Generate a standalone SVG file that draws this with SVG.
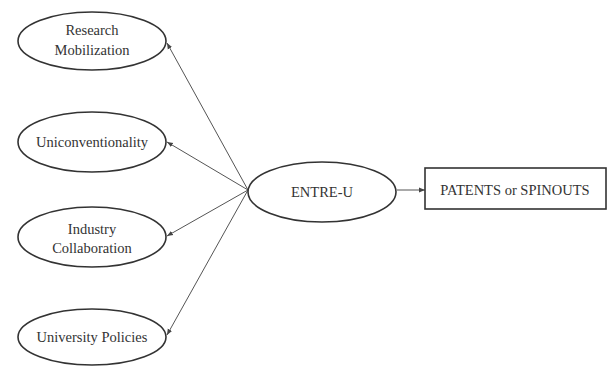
<svg xmlns="http://www.w3.org/2000/svg" width="608" height="367" viewBox="0 0 608 367">
<defs>
<marker id="arr" viewBox="0 0 10 10" refX="10" refY="5" markerWidth="6" markerHeight="6" markerUnits="userSpaceOnUse" orient="auto">
<path d="M0,1 L10,5 L0,9 z" fill="#444"/>
</marker>
<style>
.n{fill:#fff;stroke:#333;stroke-width:1.6}
.t{font-family:'Liberation Serif','DejaVu Serif',serif;font-size:14.5px;fill:#333;text-anchor:middle}
.c{stroke:#555;stroke-width:1;fill:none;marker-end:url(#arr)}
</style>
</defs>
<rect width="608" height="367" fill="#fff"/>
<g id="connectors">
<line class="c" x1="248" y1="190" x2="167" y2="43"/>
<line class="c" x1="248" y1="190" x2="167" y2="142"/>
<line class="c" x1="248" y1="190" x2="167" y2="236"/>
<line class="c" x1="248" y1="190" x2="167" y2="335"/>
<line class="c" x1="397" y1="190" x2="425" y2="190"/>
</g>
<g id="research">
<ellipse class="n" cx="92" cy="41" rx="74" ry="29"/>
<text class="t" x="92" y="35">Research</text>
<text class="t" x="92" y="55">Mobilization</text>
</g>
<g id="unconv">
<ellipse class="n" cx="92" cy="142" rx="74" ry="30"/>
<text class="t" x="92" y="147">Uniconventionality</text>
</g>
<g id="industry">
<ellipse class="n" cx="92" cy="237" rx="74" ry="30"/>
<text class="t" x="92" y="234">Industry</text>
<text class="t" x="92" y="253">Collaboration</text>
</g>
<g id="policies">
<ellipse class="n" cx="92" cy="337" rx="74" ry="28"/>
<text class="t" x="92" y="342">University Policies</text>
</g>
<g id="entreu">
<ellipse class="n" cx="322" cy="192" rx="74" ry="30"/>
<text class="t" x="322" y="197">ENTRE-U</text>
</g>
<g id="patents">
<rect class="n" x="425" y="168" width="181" height="41"/>
<text class="t" x="515" y="195">PATENTS or SPINOUTS</text>
</g>
</svg>
